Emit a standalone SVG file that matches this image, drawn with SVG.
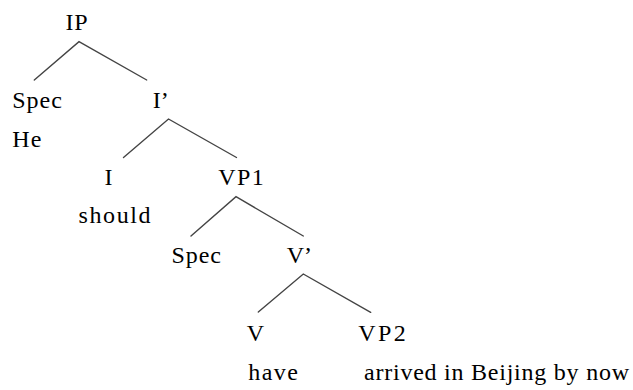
<svg xmlns="http://www.w3.org/2000/svg" width="633" height="390" viewBox="0 0 633 390">
<style>
text{font-family:"Liberation Serif","Times New Roman",serif;font-size:24px;fill:#000}
.e{stroke:#444;stroke-width:1.4;fill:none;stroke-linecap:round}
</style>
<rect width="633" height="390" fill="#fff"/>
<g id="connectors">
<path class="e" d="M34.3,80 L79,41.7 L146.7,80"/>
<path class="e" d="M123.5,157.5 L168.5,119 L236.5,157.5"/>
<path class="e" d="M191,236 L236,196.7 L303.3,236"/>
<path class="e" d="M258.3,312 L303.3,274 L370.7,312.3"/>
</g>
<g id="IP"><text x="65.5" y="29.5" textLength="22" lengthAdjust="spacing">IP</text></g>
<g id="Spec1"><text x="12.3" y="107.6" textLength="49.5" lengthAdjust="spacing">Spec</text><text x="12.3" y="147.2" textLength="29" lengthAdjust="spacing">He</text></g>
<g id="Ibar"><text x="152.7" y="107.6">I’</text></g>
<g id="I"><text x="104.5" y="184.8">I</text><text x="78.5" y="222.5" textLength="72" lengthAdjust="spacing">should</text></g>
<g id="VP1"><text x="218.3" y="184.8" textLength="45.5" lengthAdjust="spacing">VP1</text></g>
<g id="Spec2"><text x="171.5" y="263.2" textLength="49.5" lengthAdjust="spacing">Spec</text></g>
<g id="Vbar"><text x="286.7" y="263.2">V’</text></g>
<g id="V"><text x="246.7" y="340.5">V</text><text x="248.3" y="379.6" textLength="49.5" lengthAdjust="spacing">have</text></g>
<g id="VP2"><text x="358.3" y="340.5" textLength="47.5" lengthAdjust="spacing">VP2</text><text x="364" y="379.6" textLength="265" lengthAdjust="spacing">arrived in Beijing by now</text></g>
</svg>
